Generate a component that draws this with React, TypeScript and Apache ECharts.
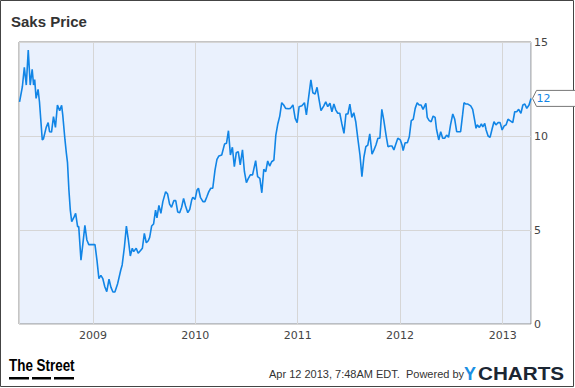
import { useEffect, useRef } from "react";
import * as echarts from "echarts";

const titleText = "Saks Price";
const footerText = "Apr 12 2013, 7:48AM EDT.  Powered by";
const xMin = "2008-04-12";
const xMax = "2013-04-12";
const yTicks = [0, 5, 10, 15];

const dates = [
  "2008-04-14", "2008-04-24", "2008-05-01", "2008-05-08", "2008-05-15", "2008-05-22", "2008-05-29", "2008-06-03",
  "2008-06-07", "2008-06-12", "2008-06-19", "2008-06-24", "2008-07-04", "2008-07-08", "2008-07-18", "2008-07-25",
  "2008-07-30", "2008-08-06", "2008-08-13", "2008-08-20", "2008-08-27", "2008-09-04", "2008-09-11", "2008-09-15",
  "2008-09-23", "2008-09-28", "2008-10-02", "2008-10-07", "2008-10-12", "2008-10-17", "2008-10-26", "2008-10-31",
  "2008-11-07", "2008-11-11", "2008-11-19", "2008-11-26", "2008-12-03", "2008-12-10", "2008-12-17", "2008-12-27",
  "2009-01-08", "2009-01-15", "2009-01-22", "2009-01-29", "2009-02-05", "2009-02-12", "2009-02-19", "2009-02-27",
  "2009-03-06", "2009-03-13", "2009-03-20", "2009-03-30", "2009-04-10", "2009-04-15", "2009-04-23", "2009-04-30",
  "2009-05-07", "2009-05-14", "2009-05-21", "2009-05-26", "2009-06-04", "2009-06-11", "2009-06-21", "2009-06-26",
  "2009-07-03", "2009-07-10", "2009-07-17", "2009-07-22", "2009-07-29", "2009-08-05", "2009-08-12", "2009-08-17",
  "2009-08-24", "2009-08-31", "2009-09-07", "2009-09-17", "2009-09-24", "2009-10-01", "2009-10-08", "2009-10-16",
  "2009-10-23", "2009-10-30", "2009-11-06", "2009-11-13", "2009-11-20", "2009-11-27", "2009-12-05", "2009-12-12",
  "2009-12-19", "2009-12-23", "2009-12-31", "2010-01-07", "2010-01-12", "2010-01-19", "2010-01-28", "2010-02-04",
  "2010-02-11", "2010-02-18", "2010-02-25", "2010-03-04", "2010-03-12", "2010-03-19", "2010-03-26", "2010-04-05",
  "2010-04-15", "2010-04-22", "2010-04-29", "2010-05-06", "2010-05-13", "2010-05-20", "2010-05-27", "2010-06-03",
  "2010-06-10", "2010-06-18", "2010-06-25", "2010-07-02", "2010-07-09", "2010-07-16", "2010-07-24", "2010-08-04",
  "2010-08-11", "2010-08-19", "2010-08-26", "2010-09-02", "2010-09-09", "2010-09-16", "2010-09-23", "2010-09-30",
  "2010-10-08", "2010-10-15", "2010-10-22", "2010-10-29", "2010-11-05", "2010-11-12", "2010-11-19", "2010-11-29",
  "2010-12-06", "2010-12-15", "2010-12-23", "2010-12-30", "2011-01-06", "2011-01-16", "2011-01-25", "2011-02-01",
  "2011-02-08", "2011-02-17", "2011-02-24", "2011-03-04", "2011-03-11", "2011-03-18", "2011-03-25", "2011-04-04",
  "2011-04-11", "2011-04-18", "2011-04-26", "2011-05-03", "2011-05-10", "2011-05-17", "2011-05-24", "2011-05-31",
  "2011-06-07", "2011-06-15", "2011-06-22", "2011-06-29", "2011-07-06", "2011-07-13", "2011-07-20", "2011-07-27",
  "2011-08-04", "2011-08-11", "2011-08-18", "2011-08-25", "2011-09-01", "2011-09-08", "2011-09-15", "2011-09-23",
  "2011-09-30", "2011-10-07", "2011-10-14", "2011-10-21", "2011-10-28", "2011-11-04", "2011-11-12", "2011-11-19",
  "2011-11-26", "2011-12-03", "2011-12-10", "2011-12-17", "2011-12-24", "2012-01-02", "2012-01-08", "2012-01-12",
  "2012-01-19", "2012-01-27", "2012-02-03", "2012-02-10", "2012-02-17", "2012-02-24", "2012-03-02", "2012-03-09",
  "2012-03-16", "2012-03-23", "2012-04-02", "2012-04-07", "2012-04-14", "2012-04-21", "2012-04-28", "2012-05-05",
  "2012-05-10", "2012-05-18", "2012-05-25", "2012-06-01", "2012-06-08", "2012-06-15", "2012-06-22", "2012-06-29",
  "2012-07-07", "2012-07-14", "2012-07-21", "2012-07-28", "2012-08-04", "2012-08-11", "2012-08-16", "2012-08-23",
  "2012-08-30", "2012-09-09", "2012-09-16", "2012-09-23", "2012-09-28", "2012-10-02", "2012-10-10", "2012-10-17",
  "2012-10-22", "2012-10-29", "2012-11-03", "2012-11-10", "2012-11-17", "2012-11-24", "2012-12-01", "2012-12-08",
  "2012-12-15", "2012-12-23", "2012-12-30", "2013-01-06", "2013-01-13", "2013-01-20", "2013-01-27", "2013-02-06",
  "2013-02-13", "2013-02-20", "2013-02-27", "2013-03-07", "2013-03-14", "2013-03-21", "2013-03-28", "2013-04-05",
  "2013-04-12",
];

const prices = [
  11.82, 12.62, 13.65, 12.71, 14.57, 12.71, 13.55, 12.71,
  13.0, 12.0, 12.48, 11.82, 9.79, 9.84, 10.46, 10.71,
  10.23, 10.21, 11.03, 10.46, 11.65, 11.35, 11.63, 11.12,
  9.79, 9.08, 8.58, 7.13, 6.06, 5.44, 5.71, 5.89,
  5.18, 5.18, 3.4, 4.29, 5.25, 4.47, 4.22, 4.22,
  4.22, 3.4, 2.41, 2.59, 2.41, 1.98, 1.72, 2.38,
  1.95, 1.7, 1.7, 2.16, 2.87, 3.14, 4.11, 5.21,
  4.47, 3.62, 4.03, 3.85, 4.03, 3.76, 3.94, 4.03,
  4.82, 4.32, 4.43, 4.61, 5.21, 5.32, 6.06, 5.65,
  6.31, 5.89, 6.51, 7.04, 6.91, 6.38, 6.21, 6.56,
  6.56, 5.96, 5.92, 6.21, 6.68, 6.28, 5.92, 6.1,
  6.6, 6.74, 6.63, 7.13, 7.22, 6.74, 6.51, 6.51,
  6.77, 7.04, 7.22, 7.22, 8.19, 8.76, 8.94, 8.99,
  9.57, 9.61, 10.28, 8.99, 9.4, 8.37, 9.11, 9.17,
  8.46, 9.26, 8.1, 7.52, 7.75, 7.93, 7.93, 8.69,
  7.84, 7.75, 6.98, 8.23, 8.1, 8.67, 8.4, 8.63,
  8.72, 10.05, 10.64, 11.06, 11.77, 11.65, 11.47, 11.45,
  11.47, 11.65, 10.94, 10.71, 11.56, 11.61, 11.77, 11.12,
  11.95, 12.98, 12.3, 12.23, 12.59, 11.95, 11.35, 11.6,
  11.82, 11.56, 11.74, 11.29, 11.7, 11.38, 11.21, 11.21,
  10.68, 10.14, 11.17, 11.17, 11.7, 10.99, 11.24, 10.76,
  9.79, 8.99, 7.84, 8.87, 9.43, 9.52, 10.11, 9.04,
  9.26, 9.52, 9.88, 9.88, 11.42, 10.85, 10.05, 9.43,
  9.47, 9.47, 9.26, 9.57, 9.88, 9.79, 9.52, 9.22,
  9.64, 9.64, 9.96, 10.82, 10.89, 11.47, 11.77, 11.65,
  11.65, 11.42, 11.74, 10.99, 10.82, 10.76, 11.06, 10.99,
  10.36, 9.79, 10.23, 9.88, 9.88, 10.05, 9.93, 10.59,
  11.17, 10.89, 10.23, 10.23, 10.23, 11.12, 11.77, 11.7,
  11.7, 11.6, 11.42, 10.85, 10.41, 10.59, 10.46, 10.64,
  10.49, 10.67, 10.32, 10.0, 9.93, 10.36, 10.76, 10.59,
  10.71, 10.71, 10.32, 10.53, 10.59, 10.89, 10.82, 10.71,
  11.29, 11.29, 11.42, 11.21, 11.65, 11.7, 11.47, 11.65,
  12.0,
];

const YEAR_MS = 365.25 * 24 * 3600 * 1000;

export default function App() {
  const ref = useRef<HTMLDivElement>(null);

  useEffect(() => {
    if (!ref.current) return;
    const chart = echarts.init(ref.current, undefined, { renderer: "svg" });
    const seriesData = dates.map((d, i) => [d, prices[i]]);
    const tickFont = { fontFamily: "DejaVu Sans", fontSize: 11, color: "#444" };

    chart.setOption({
      animation: false,
      backgroundColor: "#ffffff",
      grid: {
        left: 19,
        right: 44,
        top: 42,
        bottom: 64,
        show: true,
        backgroundColor: "#eaf1fd",
        borderColor: "#8a8a8a",
        borderWidth: 1,
      },
      xAxis: {
        type: "time",
        min: xMin,
        max: xMax,
        minInterval: YEAR_MS,
        maxInterval: YEAR_MS,
        axisLine: { show: false },
        axisTick: { show: false },
        axisLabel: {
          ...tickFont,
          margin: 6,
          formatter: (v: number) => String(new Date(v).getFullYear()),
          showMinLabel: false,
          showMaxLabel: false,
        },
        splitLine: { show: true, lineStyle: { color: "#d6d6d6", width: 1 } },
      },
      yAxis: {
        type: "value",
        position: "right",
        min: yTicks[0],
        max: yTicks[yTicks.length - 1],
        interval: 5,
        axisLine: { show: false },
        axisTick: { show: false },
        axisLabel: { ...tickFont, margin: 3 },
        splitLine: { show: true, lineStyle: { color: "#d6d6d6", width: 1 } },
      },
      series: [
        {
          type: "line",
          data: seriesData,
          showSymbol: false,
          symbol: "none",
          lineStyle: { color: "#1185e6", width: 1.6 },
          z: 3,
        },
      ],
      graphic: [
        {
          id: "frame",
          type: "rect",
          shape: { x: 0.5, y: 0.5, width: 573, height: 386 },
          style: { fill: "none", stroke: "#444", lineWidth: 1 },
          silent: true,
        },
        {
          id: "title",
          type: "text",
          x: 11,
          y: 21,
          style: {
            text: titleText,
            fontFamily: "Liberation Sans",
            fontWeight: "bold",
            fontSize: 15,
            fill: "#333",
            textVerticalAlign: "middle",
          },
        },
        {
          id: "street",
          type: "text",
          x: 9,
          y: 365,
          scaleX: 0.79,
          style: {
            text: "The Street",
            fontFamily: "Liberation Sans",
            fontWeight: "bold",
            fontSize: 17,
            fill: "#000",
            textVerticalAlign: "middle",
          },
        },
        { id: "d1", type: "rect", shape: { x: 9, y: 377, width: 20, height: 2.5 }, style: { fill: "#000" } },
        { id: "d2", type: "rect", shape: { x: 32, y: 377, width: 19, height: 2.5 }, style: { fill: "#000" } },
        { id: "d3", type: "rect", shape: { x: 54, y: 377, width: 20, height: 2.5 }, style: { fill: "#000" } },
        {
          id: "footer",
          type: "text",
          x: 269,
          y: 374,
          style: {
            text: footerText,
            fontFamily: "Liberation Sans",
            fontSize: 11,
            fill: "#333",
            textVerticalAlign: "middle",
          },
        },
        {
          id: "ylogo",
          type: "text",
          x: 464,
          y: 374,
          style: {
            text: "Y",
            fontFamily: "Liberation Sans",
            fontWeight: "bold",
            fontSize: 18,
            fill: "#1a8fe3",
            textVerticalAlign: "middle",
          },
        },
        {
          id: "chartslogo",
          type: "text",
          x: 478,
          y: 374,
          scaleX: 1.15,
          style: {
            text: "CHARTS",
            fontFamily: "Liberation Sans",
            fontWeight: "bold",
            fontSize: 18,
            fill: "#1b2633",
            textVerticalAlign: "middle",
          },
        },
      ],
    });

    const last = prices.length - 1;
    const pt = chart.convertToPixel({ gridIndex: 0 }, [
      +new Date(dates[last]),
      prices[last],
    ]) as number[];
    if (pt) {
      const tipX = 532.5;
      const py = pt[1];
      chart.setOption({
        graphic: [
          {
            id: "lastbox",
            type: "polygon",
            shape: {
              points: [
                [tipX, py],
                [tipX + 4, py - 8],
                [580, py - 8],
                [580, py + 8],
                [tipX + 4, py + 8],
              ],
            },
            style: { fill: "#fff", stroke: "#777", lineWidth: 1 },
            z: 10,
          },
          {
            id: "lasttext",
            type: "text",
            x: tipX + 4,
            y: py,
            z: 11,
            style: {
              text: String(Math.round(prices[last])),
              fontFamily: "DejaVu Sans",
              fontSize: 11,
              fill: "#1185e6",
              textVerticalAlign: "middle",
            },
          },
        ],
      });
    }

    return () => chart.dispose();
  }, []);

  return (
    <div
      ref={ref}
      style={{ position: "fixed", left: 0, top: 0, width: 575, height: 388 }}
    />
  );
}
